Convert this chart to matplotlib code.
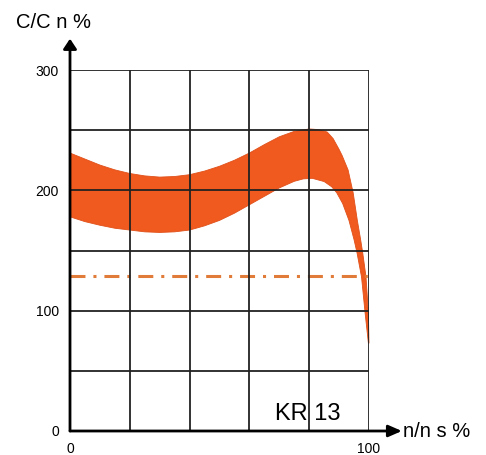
import matplotlib
matplotlib.use("Agg")
import matplotlib.pyplot as plt

# ---- data ----
upper_x = [0, 5, 10, 15, 20, 25, 30, 35, 40, 45, 50, 55, 60, 65, 70, 75, 80, 83, 86, 88, 90, 91, 93, 94.7, 96.1, 97.2, 97.9, 99.0, 99.8, 100]
upper_y = [231, 226, 221, 217, 214, 212, 211, 211.5, 213, 216, 220, 225, 231, 238, 244.5, 249, 251, 250.5, 248.5, 243, 234, 229, 217, 198, 175, 159, 148, 128, 98, 73]
lower_x = [0, 5, 10, 15, 20, 25, 30, 35, 40, 45, 50, 55, 60, 65, 70, 75, 78, 81, 85, 87.5, 89.2, 91.2, 93.3, 95.0, 96.0, 97.5, 98.7, 99.8]
lower_y = [178, 174, 171, 168.5, 167, 165.5, 165, 165.5, 167, 170.5, 175, 181, 188, 195, 202, 207.5, 209.5, 210, 207.3, 203, 198, 189, 175, 159, 148, 128, 98, 73]
ref_x = [0, 100]
ref_y = [129, 129]

x_ticks = [0, 20, 40, 60, 80, 100]
x_ticklabels = ["0", "", "", "", "", "100"]
y_ticks = [0, 50, 100, 150, 200, 250, 300]
y_ticklabels = ["0", "", "100", "", "200", "", "300"]

plt.rcParams['font.family'] = ['Liberation Sans', 'DejaVu Sans']

W, H = 486, 455
fig = plt.figure(figsize=(W / 100, H / 100), dpi=100)
ax = fig.add_axes([70 / W, (H - 431) / H, 299 / W, 361 / H])
ax.set_xlim(0, 100)
ax.set_ylim(0, 300)

band_x = upper_x + lower_x[::-1]
band_y = upper_y + lower_y[::-1]
ax.fill(band_x, band_y, color="#F05A1E", lw=0.6, ec="#E0501A", zorder=1, clip_on=False)

ax.plot(ref_x, ref_y, color="#E07B39", lw=2.2, linestyle=(0, (4.9, 2.6, 1.0, 2.6)), zorder=2)

ax.set_xticks(x_ticks)
ax.set_xticklabels(x_ticklabels, fontsize=10)
ax.set_yticks(y_ticks)
ax.set_yticklabels(y_ticklabels, fontsize=10)
ax.tick_params(axis="both", length=0)
ax.tick_params(axis="x", pad=8)
ax.tick_params(axis="y", pad=8)
ax.set_axisbelow(False)
ax.grid(True, color="#222222", lw=1.3, zorder=2.5)
for s in ax.spines.values():
    s.set_visible(False)

# axes arrows
ax.annotate("", xy=(111, 0), xytext=(0, 0), xycoords="data",
            arrowprops=dict(arrowstyle="-|>,head_length=0.8,head_width=0.35", lw=2,
                            color="black", shrinkA=0, shrinkB=0),
            annotation_clip=False, zorder=6)
ax.annotate("", xy=(0, 326), xytext=(0, 0), xycoords="data",
            arrowprops=dict(arrowstyle="-|>,head_length=0.6,head_width=0.4", lw=2,
                            color="black", shrinkA=0, shrinkB=0),
            annotation_clip=False, zorder=6)

fig.text(16 / W, 1 - 28 / H, "C/C n %", fontsize=14.5, ha="left", va="baseline")
fig.text(403 / W, 1 - 437 / H, "n/n s %", fontsize=14.5, ha="left", va="baseline")
ax.text(68.5, 9.5, "KR 13", fontsize=17, ha="left", va="baseline", zorder=7)

fig.savefig("out.png", dpi=100)
